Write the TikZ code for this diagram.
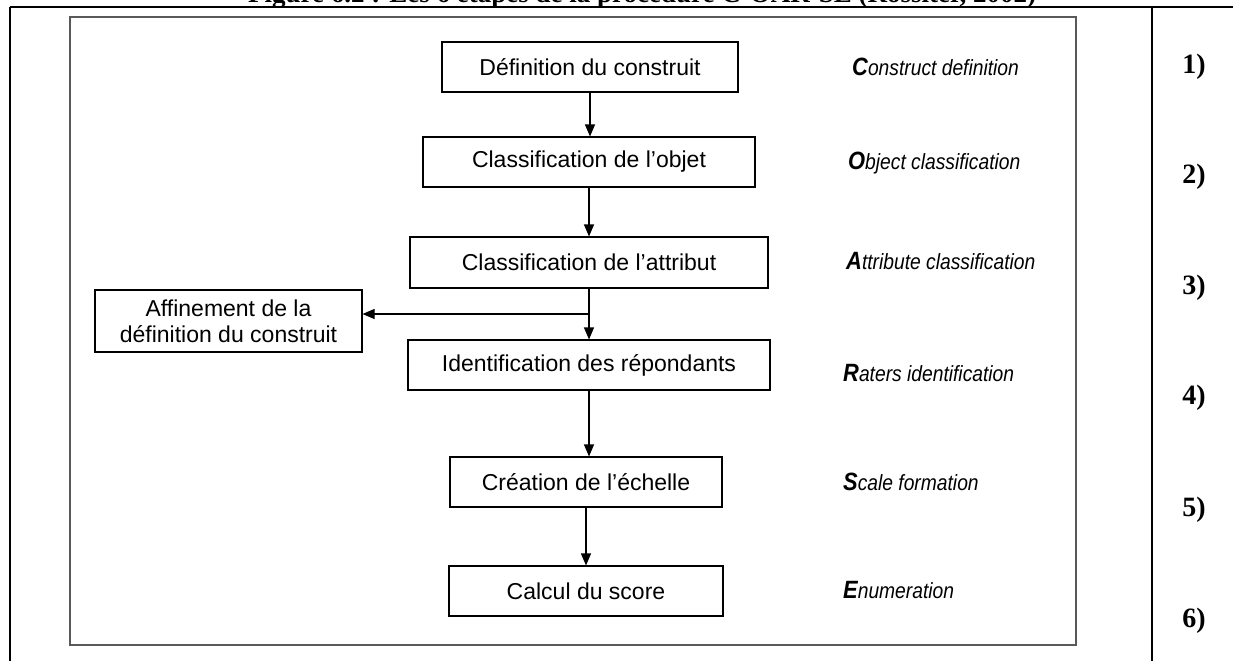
\documentclass[tikz,border=0pt]{standalone}
\usepackage{fontspec}
\setmainfont{Liberation Sans}
\newfontfamily\serifb{Liberation Serif}
\newfontfamily\narrowit[FakeStretch=0.875]{Liberation Sans}
\usetikzlibrary{arrows.meta}
\begin{document}
\begin{tikzpicture}[x=1pt,y=-1pt,
  flowbox/.style={draw=black, line width=1.1pt, inner sep=0pt, minimum height=50pt,
    font=\fontsize{23}{27}\selectfont, align=center},
  arr/.style={draw=black, line width=1.1pt, -{Triangle[length=12pt,width=10pt]}},
  conn/.style={draw=black, line width=1.1pt},
  eng/.style={anchor=west, inner sep=0pt, font=\narrowit\itshape\fontsize{22}{26}\selectfont},
  num/.style={inner sep=0pt, font=\serifb\bfseries\fontsize{28}{30}\selectfont},
  tab/.style={draw=black, line width=2pt}
]
\useasboundingbox (0,0) rectangle (1233,661);
\clip (0,0) rectangle (1233,661);
\fill[white] (0,0) rectangle (1233,661);

% title (cut off at top, as in the reference)
\node[anchor=base west, inner sep=0pt, font=\serifb\bfseries\fontsize{27}{30}\selectfont] (title) at (248,2.5)
  {Figure 6.2 : Les 6 étapes de la procédure C-OAR-SE (Rossiter, 2002)};

% table lines
\draw[tab] (10,7) -- (1233,7);
\draw[tab] (10,7) -- (10,661);
\draw[tab] (1152,7) -- (1152,661);

% inner figure frame
\draw[draw=black!65, line width=2pt] (70,17) rectangle (1076,645);

% flow boxes
\node[flowbox, minimum width=296pt] (b1) at (590,67) {Définition du construit};
\node[flowbox, minimum width=332pt] (b2) at (589,162) {Classification de l’objet};
\node[flowbox, minimum width=358pt, minimum height=51pt] (b3) at (589,262.5) {Classification de l’attribut};
\node[flowbox, minimum width=362pt] (b4) at (589,365) {Identification des répondants};
\node[flowbox, minimum width=272pt] (b5) at (586,482) {Création de l’échelle};
\node[flowbox, minimum width=274pt] (b6) at (586,591) {Calcul du score};
\node[flowbox, minimum width=267pt, minimum height=62pt] (aff) at (228.5,321)
  {Affinement de la\\[-1pt]définition du construit};

% connectors
\draw[arr] (b1.south) -- (b1.south |- b2.north);
\draw[arr] (b2.south) -- (b2.south |- b3.north);
\coordinate (br) at (589,314);
\draw[conn] (b3.south) -- (br);
\draw[arr] (br) -- (b4.north);
\draw[arr] (br) -- (aff.east |- br);
\draw[arr] (b4.south) -- (b4.south |- b5.north);
\draw[arr] (b5.south) -- (b6.north);

% english labels
\node[eng] (e1) at (852,67) {{\fontsize{25}{26}\selectfont\bfseries C}onstruct definition};
\node[eng] (e2) at (848,163) {{\fontsize{25}{26}\selectfont\bfseries O}bject classification};
\node[eng] (e3) at (846,261) {{\fontsize{25}{26}\selectfont\bfseries A}ttribute classification};
\node[eng] (e4) at (843,373) {{\fontsize{25}{26}\selectfont\bfseries R}aters identification};
\node[eng] (e5) at (843,482) {{\fontsize{25}{26}\selectfont\bfseries S}cale formation};
\node[eng] (e6) at (843,590) {{\fontsize{25}{26}\selectfont\bfseries E}numeration};

% step numbers
\node[num] (n1) at (1194,67) {1)};
\node[num] (n2) at (1194,177) {2)};
\node[num] (n3) at (1194,288) {3)};
\node[num] (n4) at (1194,398) {4)};
\node[num] (n5) at (1194,510) {5)};
\node[num] (n6) at (1194,621) {6)};
\end{tikzpicture}
\end{document}
